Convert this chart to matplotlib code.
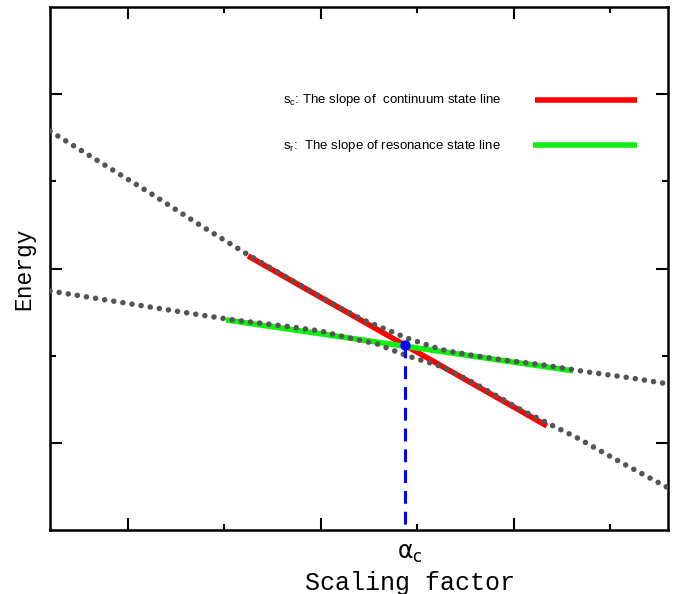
import matplotlib
matplotlib.use('Agg')
import matplotlib.pyplot as plt
from matplotlib.ticker import FixedLocator

# ---- data ----
x_upper = [0.595, 0.855, 1.114, 1.373, 1.633, 1.892, 2.100, 2.219, 2.307, 2.385,
           2.437, 2.489, 2.566, 2.644, 2.774, 2.940, 3.153, 3.381, 3.604, 3.801]
y_upper = [2.788, 2.610, 2.433, 2.249, 2.072, 1.905, 1.774, 1.705, 1.665, 1.630,
           1.605, 1.585, 1.556, 1.530, 1.504, 1.476, 1.447, 1.407, 1.373, 1.338]

x_lower = [0.595, 0.855, 1.114, 1.373, 1.545, 1.804, 1.996, 2.126, 2.203, 2.292,
           2.369, 2.437, 2.499, 2.551, 2.629, 2.774, 2.940, 3.049, 3.173, 3.329,
           3.552, 3.801]
y_lower = [1.871, 1.825, 1.779, 1.734, 1.705, 1.671, 1.642, 1.607, 1.588, 1.567,
           1.533, 1.504, 1.481, 1.464, 1.436, 1.355, 1.252, 1.183, 1.115, 1.029,
           0.891, 0.742]

x_cont = [1.622, 3.173]
y_cont = [2.072, 1.097]
x_res = [1.508, 3.308]
y_res = [1.705, 1.413]

alpha_c = 2.437
e_c = 1.562

legend_labels = [r"s$_\mathregular{c}$: The slope of  continuum state line",
                 r"s$_\mathregular{r}$:  The slope of resonance state line"]
xlabel = "Scaling factor"
ylabel = "Energy"

# ---- figure ----
fig = plt.figure(figsize=(6.78, 5.94), dpi=100)
ax = fig.add_axes([50/678, 1 - 530/594, 618/678, 523/594])
ax.set_xlim(0.595, 3.801)
ax.set_ylim(0.5, 3.5)

ax.plot(x_cont, y_cont, color='#ff0000', lw=4.0, solid_capstyle='butt', zorder=2)
ax.plot(x_res, y_res, color='#11ee11', lw=4.0, solid_capstyle='butt', zorder=2)

dot = dict(color='#555555', lw=4.0, linestyle=(0, (0.01, 1.65)),
           dash_capstyle='round', zorder=3)
ax.plot(x_upper, y_upper, **dot)
ax.plot(x_lower, y_lower, **dot)

ax.plot([alpha_c, alpha_c], [e_c, 0.5], color='#0000ff', lw=2.2,
        linestyle=(0, (4.2, 2.6)), zorder=4, clip_on=False)
ax.plot([alpha_c], [e_c], 'o', color='#0000ff', ms=6.5, zorder=5)

# legend (drawn manually)
fs = 9.5
ax.text(0.377, 0.822, legend_labels[0], transform=ax.transAxes, fontsize=fs,
        family='Liberation Sans', va='center', ha='left')
ax.text(0.377, 0.734, legend_labels[1], transform=ax.transAxes, fontsize=fs,
        family='Liberation Sans', va='center', ha='left')
ax.plot([0.785, 0.950], [0.822, 0.822], transform=ax.transAxes, color='#ff0000',
        lw=4.0, solid_capstyle='butt')
ax.plot([0.782, 0.950], [0.736, 0.736], transform=ax.transAxes, color='#11ee11',
        lw=4.0, solid_capstyle='butt')

# ticks
ax.xaxis.set_major_locator(FixedLocator([1, 2, 3]))
ax.xaxis.set_minor_locator(FixedLocator([1.5, 2.5, 3.5]))
ax.yaxis.set_major_locator(FixedLocator([1, 2, 3]))
ax.yaxis.set_minor_locator(FixedLocator([1.5, 2.5]))
ax.tick_params(which='both', direction='in', top=True, right=True,
               labelbottom=False, labelleft=False, width=1.5, color='black')
ax.tick_params(which='major', length=8.6)
ax.tick_params(which='minor', length=4.3)
for s in ax.spines.values():
    s.set_linewidth(1.8)

ax.annotate(r"$\mathregular{\alpha_c}$", xy=(alpha_c, 0),
            xycoords=('data', 'axes fraction'), xytext=(3.5, -8),
            textcoords='offset points', ha='center', va='top', fontsize=17)

ax.set_xlabel(xlabel, family='Liberation Mono', fontsize=18)
ax.xaxis.set_label_coords(0.5825, -0.078)
ax.set_ylabel(ylabel, family='Liberation Mono', fontsize=16.5)
ax.yaxis.set_label_coords(-0.024, 0.5)

fig.savefig('out.png', dpi=100)
